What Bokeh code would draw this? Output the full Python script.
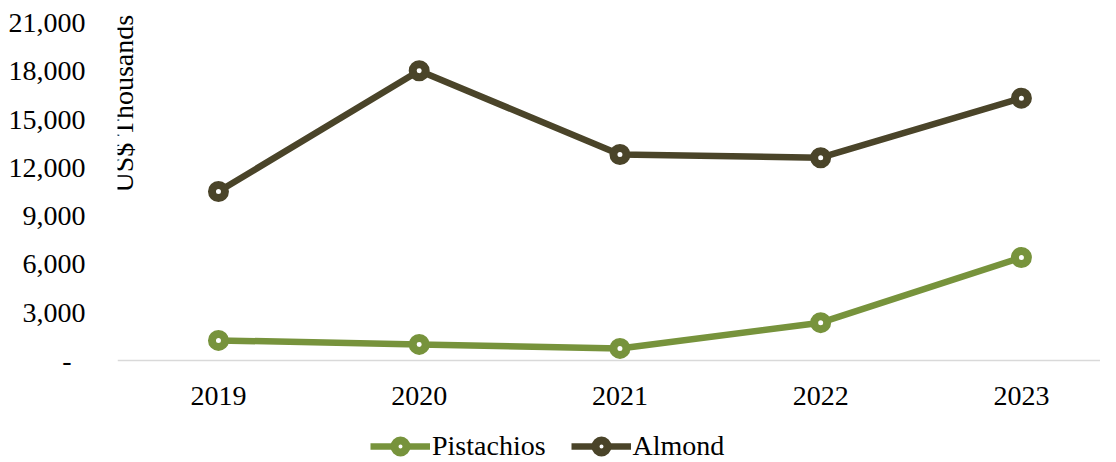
import math
from bokeh.plotting import figure
from bokeh.models import (Range1d, FixedTicker, Legend, LegendItem, Label,
                          NumeralTickFormatter)
from bokeh.embed import file_html
from bokeh.resources import INLINE

years = ["2019", "2020", "2021", "2022", "2023"]
pistachios = [1250, 1000, 750, 2350, 6400]
almond = [10500, 18000, 12800, 12600, 16300]
y_ticks = [0, 3000, 6000, 9000, 12000, 15000, 18000, 21000]

PIST = "#77933C"
ALM = "#4A4429"
FONT = "Liberation Serif"
FS = "28px"

xs = [int(y) for y in years]

p = figure(width=1100, height=462, output_backend="svg", toolbar_location=None,
           x_range=Range1d(2018.497, 2023.394), y_range=Range1d(-6337, 22367),
           min_border_left=117, min_border_right=0, min_border_top=0,
           min_border_bottom=0)
p.outline_line_color = None
p.xgrid.visible = False
p.ygrid.visible = False

# y axis
p.yaxis.ticker = FixedTicker(ticks=y_ticks)
p.yaxis.formatter = NumeralTickFormatter(format="0,0")
p.yaxis.major_label_overrides = {0: "-\u00a0\u00a0"}
p.yaxis.axis_line_color = None
p.yaxis.major_tick_line_color = None
p.yaxis.minor_tick_line_color = None
p.yaxis.major_tick_out = 0
p.yaxis.major_tick_in = 0
p.yaxis.minor_tick_out = 0
p.yaxis.major_label_standoff = 32
p.yaxis.major_label_text_font = FONT
p.yaxis.major_label_text_font_size = FS
p.yaxis.major_label_text_color = "#000000"

# x axis, drawn at y = 0 inside the frame
p.xaxis.fixed_location = 0
p.xaxis.ticker = FixedTicker(ticks=xs)
p.xaxis.major_label_overrides = {x: y for x, y in zip(xs, years)}
p.xaxis.axis_line_color = "#d9d9d9"
p.xaxis.axis_line_width = 1.5
p.xaxis.major_tick_line_color = None
p.xaxis.minor_tick_line_color = None
p.xaxis.major_tick_out = 0
p.xaxis.major_tick_in = 0
p.xaxis.minor_tick_out = 0
p.xaxis.major_label_standoff = 26
p.xaxis.major_label_text_font = FONT
p.xaxis.major_label_text_font_size = FS
p.xaxis.major_label_text_color = "#000000"

lp = p.line(xs, pistachios, line_color=PIST, line_width=6.5)
sp = p.scatter(xs, pistachios, size=13, marker="circle", line_color=PIST,
               line_width=8, fill_color="white")
la = p.line(xs, almond, line_color=ALM, line_width=6.5)
sa = p.scatter(xs, almond, size=13, marker="circle", line_color=ALM,
               line_width=8, fill_color="white")

p.add_layout(Label(x=2018.527, y=10438, text="US$ Thousands", angle=math.pi / 2,
                   text_align="left", text_baseline="alphabetic",
                   text_font=FONT, text_font_size=FS, text_color="#000000"))

legend = Legend(items=[LegendItem(label="Pistachios", renderers=[lp, sp]),
                       LegendItem(label="Almond", renderers=[la, sa])],
                orientation="horizontal", location=(253, 0),
                label_text_font=FONT, label_text_font_size=FS,
                label_text_color="#000000",
                glyph_width=60, glyph_height=30, label_standoff=2, spacing=25,
                padding=0, margin=0, border_line_color=None,
                background_fill_color=None)
p.add_layout(legend)

open("out.html", "w").write(file_html(p, INLINE))
